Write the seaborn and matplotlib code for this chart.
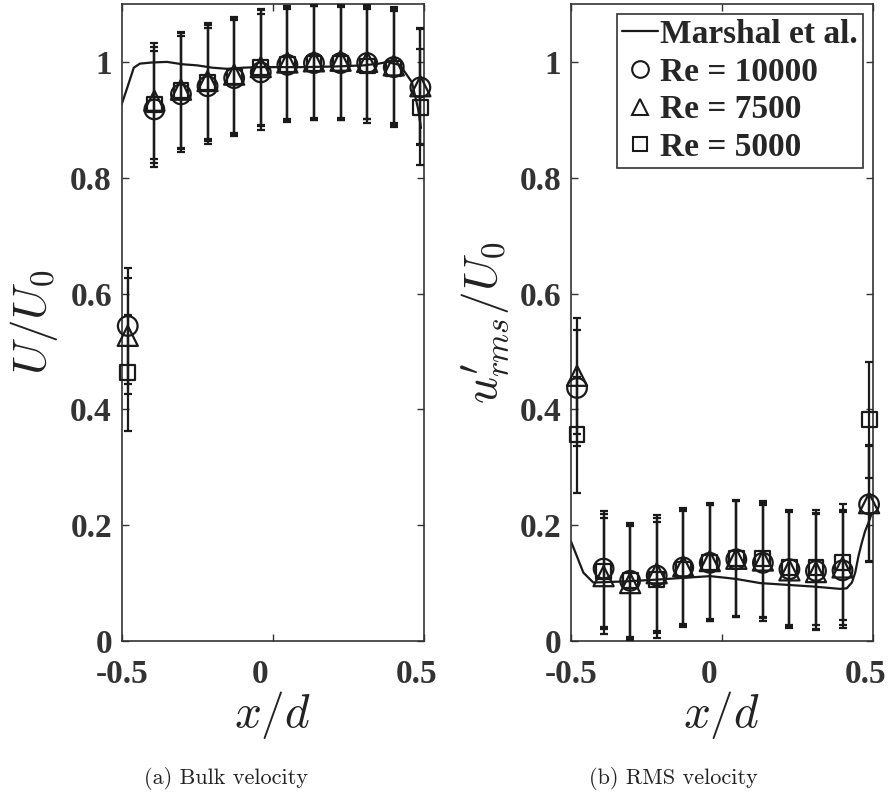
import matplotlib
matplotlib.use("Agg")
import matplotlib.pyplot as plt
import matplotlib.transforms as mtransforms
import seaborn as sns
from matplotlib.lines import Line2D

# ---------------- data ----------------
x_pos = [-0.480, -0.392, -0.304, -0.216, -0.128, -0.040, 0.048, 0.136, 0.224, 0.312, 0.400, 0.488]

# (a) bulk velocity U/U0
U_re10000 = [0.544, 0.918, 0.944, 0.958, 0.972, 0.982, 0.995, 0.998, 0.998, 0.998, 0.991, 0.956]
U_re7500  = [0.527, 0.933, 0.952, 0.967, 0.978, 0.991, 0.999, 1.001, 1.002, 1.000, 0.994, 0.958]
U_re5000  = [0.463, 0.926, 0.950, 0.964, 0.975, 0.990, 0.995, 0.998, 0.997, 0.993, 0.988, 0.922]
Uerr_re10000 = [0.100, 0.100, 0.100, 0.100, 0.100, 0.100, 0.097, 0.098, 0.098, 0.097, 0.100, 0.100]
Uerr_re7500  = [0.100, 0.100, 0.100, 0.100, 0.100, 0.100, 0.098, 0.098, 0.098, 0.098, 0.100, 0.100]
Uerr_re5000  = [0.100, 0.100, 0.100, 0.100, 0.100, 0.100, 0.098, 0.098, 0.098, 0.098, 0.100, 0.100]

marshal_x_U = [-0.50, -0.48, -0.46, -0.44, -0.40, -0.35, -0.30, -0.25, -0.20, -0.15, -0.10, -0.05,
               0.00, 0.10, 0.20, 0.30, 0.35, 0.38, 0.40, 0.42, 0.44, 0.46, 0.48, 0.49]
marshal_y_U = [0.927, 0.958, 0.990, 0.997, 0.999, 1.000, 0.996, 0.994, 0.990, 0.988, 0.990, 0.991,
               0.991, 0.991, 0.992, 0.994, 0.997, 1.000, 0.997, 0.995, 0.980, 0.965, 0.920, 0.886]

# (b) RMS velocity u'rms/U0
R_re10000 = [0.437, 0.125, 0.104, 0.113, 0.127, 0.135, 0.141, 0.135, 0.124, 0.121, 0.122, 0.236]
R_re7500  = [0.458, 0.112, 0.100, 0.117, 0.129, 0.138, 0.142, 0.139, 0.122, 0.119, 0.127, 0.238]
R_re5000  = [0.356, 0.120, 0.105, 0.106, 0.124, 0.135, 0.143, 0.142, 0.127, 0.127, 0.136, 0.382]
Rerr_re10000 = [0.100, 0.100, 0.098, 0.100, 0.100, 0.100, 0.100, 0.100, 0.100, 0.100, 0.100, 0.100]
Rerr_re7500  = [0.100, 0.100, 0.098, 0.100, 0.100, 0.100, 0.100, 0.100, 0.100, 0.100, 0.100, 0.100]
Rerr_re5000  = [0.100, 0.100, 0.098, 0.100, 0.100, 0.100, 0.100, 0.100, 0.100, 0.100, 0.100, 0.100]

marshal_x_R = [-0.500, -0.481, -0.459, -0.426, -0.315, -0.216, -0.128, -0.039, 0.016, 0.049, 0.127,
               0.215, 0.304, 0.392, 0.414, 0.431, 0.442, 0.453, 0.464, 0.475, 0.486, 0.497]
marshal_y_R = [0.172, 0.147, 0.118, 0.101, 0.103, 0.106, 0.109, 0.112, 0.109, 0.107, 0.100,
               0.097, 0.094, 0.090, 0.091, 0.101, 0.118, 0.147, 0.170, 0.190, 0.204, 0.221]

legend_labels = ["Marshal et al.", "Re = 10000", "Re = 7500", "Re = 5000"]
x_ticks = [-0.5, 0, 0.5]
x_ticklabels = ["-0.5", "0", "0.5"]
y_ticks = [0, 0.2, 0.4, 0.6, 0.8, 1.0]
y_ticklabels = ["0", "0.2", "0.4", "0.6", "0.8", "1"]

# ---------------- style ----------------
sns.set_theme(style="ticks")
plt.rcParams["font.family"] = ["Liberation Serif", "DejaVu Serif"]
plt.rcParams["mathtext.fontset"] = "cm"
AXC = "#333333"

fig = plt.figure(figsize=(8.91, 7.97), dpi=100)
ax1 = fig.add_axes([121.7 / 891, 156 / 797, 302.3 / 891, 637 / 797])
ax2 = fig.add_axes([571 / 891, 156 / 797, 301.7 / 891, 637 / 797])

markers = ["o", "^", "s"]
sizes = [200, 210, 115]
LW = 1.6
# horizontal shift of the x tick labels (as in the exported original), in pixels
label_shift_px = [0, -13, -7]


def draw(ax, mx, my, series, errs):
    sns.lineplot(x=mx, y=my, ax=ax, color="k", linewidth=LW, sort=False,
                 estimator=None, legend=False, zorder=2)
    for y, e, m, s in zip(series, errs, markers, sizes):
        ax.errorbar(x_pos, y, yerr=e, fmt="none", ecolor="k", elinewidth=LW,
                    capsize=3.2, capthick=LW, zorder=3)
        sns.scatterplot(x=x_pos, y=y, ax=ax, marker=m, s=s, color="k",
                        facecolors="none", edgecolor="k", linewidth=LW,
                        legend=False, zorder=4, clip_on=False)
    ax.set_xlim(-0.5, 0.5)
    ax.set_ylim(0, 1.1)
    ax.set_xticks(x_ticks)
    ax.set_xticklabels(x_ticklabels, fontweight="bold")
    ax.set_yticks(y_ticks)
    ax.set_yticklabels(y_ticklabels, fontweight="bold")
    ax.tick_params(axis="both", direction="in", length=5, width=1.0, top=True, right=True,
                   colors=AXC, labelsize=24, labelcolor=AXC)
    ax.tick_params(axis="x", pad=13)
    ax.tick_params(axis="y", pad=7)
    for lab, dx in zip(ax.get_xticklabels(), label_shift_px):
        off = mtransforms.ScaledTranslation(dx / 100.0, 0, fig.dpi_scale_trans)
        lab.set_transform(lab.get_transform() + off)
    for sp in ax.spines.values():
        sp.set_visible(True)
        sp.set_color(AXC)
        sp.set_linewidth(1.2)
    ax.set_xlabel("$x/d$", fontsize=34, color="#222222", va="center")
    ax.xaxis.set_label_coords(0.5, -0.116)


draw(ax1, marshal_x_U, marshal_y_U, [U_re10000, U_re7500, U_re5000],
     [Uerr_re10000, Uerr_re7500, Uerr_re5000])
draw(ax2, marshal_x_R, marshal_y_R, [R_re10000, R_re7500, R_re5000],
     [Rerr_re10000, Rerr_re7500, Rerr_re5000])

ax1.set_ylabel("$U/U_0$", fontsize=34, color="#222222", va="center")
ax1.yaxis.set_label_coords(-0.29, 0.5)
ax2.set_ylabel(r"$u^{\prime}_{rms}/U_0$", fontsize=34, color="#222222", va="center")
ax2.yaxis.set_label_coords(-0.285, 0.5)

handles = [
    Line2D([], [], color="k", lw=LW),
    Line2D([], [], marker="o", ls="none", mfc="none", mec="k", ms=12, mew=1.5),
    Line2D([], [], marker="^", ls="none", mfc="none", mec="k", ms=12, mew=1.5),
    Line2D([], [], marker="s", ls="none", mfc="none", mec="k", ms=9.5, mew=1.5),
]
leg = ax2.legend(handles, legend_labels, loc="upper right",
                 bbox_to_anchor=(863 / 891, 783 / 797), bbox_transform=fig.transFigure,
                 prop=dict(family="Liberation Serif", weight="bold", size=24),
                 frameon=True, fancybox=False, framealpha=1, edgecolor=AXC,
                 handlelength=1.1, handletextpad=0.06, labelspacing=0.2,
                 borderpad=0.15, borderaxespad=0)
leg.get_frame().set_linewidth(1.2)

fig.text(226 / 891, 1 - 778 / 797, "(a) Bulk velocity", family="cmr10", size=16,
         ha="center", va="center", color="#222222")
fig.text(673 / 891, 1 - 778 / 797, "(b) RMS velocity", family="cmr10", size=16,
         ha="center", va="center", color="#222222")

fig.savefig("out.png", dpi=100)
